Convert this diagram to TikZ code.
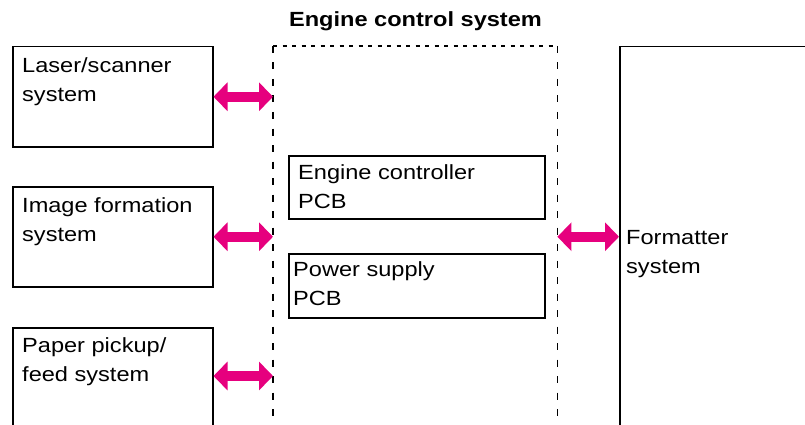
\documentclass[tikz,border=0pt]{standalone}
\usepackage{fontspec}
\setmainfont[FakeStretch=1.15]{Liberation Sans}
\usetikzlibrary{arrows.meta}
\definecolor{linkpink}{RGB}{230,0,126}
\begin{document}
\begin{tikzpicture}[x=1pt,y=-1pt,
  sysbox/.style={draw, line width=1.5pt, rectangle, inner sep=0pt, anchor=north west},
  ctlbox/.style={rectangle, inner sep=0pt, anchor=north west},
  vdash/.style={line width=1.5pt, dash pattern=on 7pt off 9.5pt},
  hdash/.style={line width=1.5pt, dash pattern=on 4pt off 5.5pt},
  txt/.style={anchor=north west, align=left, inner sep=0pt, font=\fontsize{20.5}{29}\selectfont},
  link/.style={{Triangle[width=28pt,length=14pt]}-{Triangle[width=28pt,length=14pt]}, line width=10pt, draw=linkpink, fill=linkpink}
]
\useasboundingbox (0,0) rectangle (805,425);
\clip (0,0) rectangle (805,425);

% title
\node[anchor=base, inner sep=0pt, font=\bfseries\fontsize{20.5}{24}\selectfont] (title) at (415.5,27) {Engine control system};

% left system boxes
\node[sysbox, minimum width=200pt, minimum height=100pt] (laser) at (12,46) {};
\node[sysbox, minimum width=200pt, minimum height=100pt] (image) at (12,186) {};
\node[sysbox, minimum width=200pt, minimum height=120pt] (paper) at (12,327) {};

% engine control system (dashed outline)
\node[ctlbox, minimum width=284pt, minimum height=420pt] (ecs) at (273,46) {};
\draw[hdash] (ecs.north west) -- (ecs.north east);
\draw[vdash] (ecs.north west) -- (ecs.south west);
\draw[vdash] (ecs.north east) -- (ecs.south east);

% PCBs
\node[sysbox, minimum width=256pt, minimum height=63pt] (ecpcb) at (288,155) {};
\node[sysbox, minimum width=256pt, minimum height=64pt] (pspcb) at (288,253) {};

% formatter
\node[sysbox, minimum width=220pt, minimum height=420pt] (fmt) at (619,46) {};

% texts
\node[txt] (tlaser) at (22,51.7) {\strut Laser/scanner\\system};
\node[txt] (timage) at (22,192.2) {\strut Image formation\\system};
\node[txt] (tpaper) at (22,331.7) {\strut Paper pickup/\\feed system};
\node[txt] (tecpcb) at (298,159.2) {\strut Engine controller\\PCB};
\node[txt] (tpspcb) at (293,256.4) {\strut Power supply\\PCB};
\node[txt] (tfmt) at (626,223.7) {\strut Formatter\\system};

% connectors
\draw[link] (laser.east) -- (laser.east -| ecs.west);
\draw[link] (image.east) -- (image.east -| ecs.west);
\coordinate (pend) at ([yshift=-49pt]paper.north east);
\draw[link] (pend) -- (pend -| ecs.west);
\draw[link] (ecs.east |- image.east) -- (fmt.west |- image.east);
\end{tikzpicture}
\end{document}
